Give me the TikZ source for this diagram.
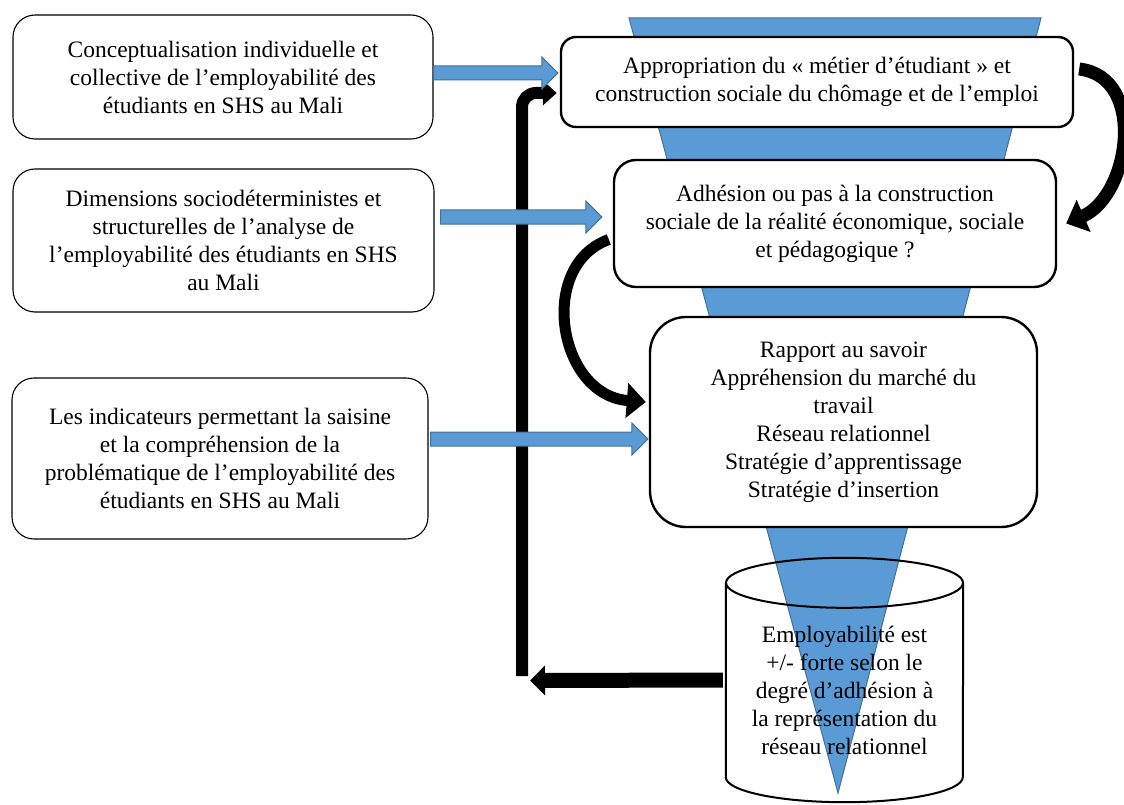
\documentclass[tikz,border=0pt]{standalone}
\usepackage{fontspec}
\setmainfont{Liberation Serif}
\usetikzlibrary{calc,arrows.meta}

\definecolor{funnelblue}{HTML}{5B9BD5}
\definecolor{edgeblue}{HTML}{41719C}

\tikzset{
    txt/.style={font=\fontsize{23.5pt}{28pt}\selectfont, align=center, inner sep=0pt},
    sourcebox/.style={txt, draw, line width=1.1pt, rounded corners=22pt, fill=white},
    stagebox/.style={txt, draw, line width=2.4pt, fill=white},
    cylline/.style={line width=2pt},
    blockarrow/.style={draw=edgeblue, fill=funnelblue, line width=1pt,
        to path={let \p1=(\tikztostart), \p2=(\tikztotarget) in
            (\x1,\y1+7pt) -- (\x2-#1-16pt,\y1+7pt) -- (\x2-#1-16pt,\y1+16pt) -- (\x2-#1,\y1)
            -- (\x2-#1-16pt,\y1-16pt) -- (\x2-#1-16pt,\y1-7pt) -- (\x1,\y1-7pt) -- cycle}},
    blockarrow/.default=2pt,
    bendarrow/.style={line width=#1, -{Triangle[length=19pt,width=34pt]}},
    loopline/.style={line width=#1}
}

\begin{document}
\begin{tikzpicture}[x=1pt,y=-1pt]
\useasboundingbox (0,0) rectangle (1124,805);

\filldraw[draw=edgeblue, fill=funnelblue, line width=1pt] (629,18) -- (1041,18) -- (838,793) -- cycle;

\node[sourcebox, minimum width=420pt, minimum height=124pt] (src1) at (223,77)
    {Conceptualisation individuelle et\\collective de l’employabilité des\\étudiants en SHS au Mali};
\node[sourcebox, minimum width=421pt, minimum height=143pt] (src2) at (223.5,240.5)
    {Dimensions sociodéterministes et\\structurelles de l’analyse de\\l’employabilité des étudiants en SHS\\au Mali};
\node[sourcebox, minimum width=416pt, minimum height=161pt] (src3) at (220,458.5)
    {Les indicateurs permettant la saisine\\et la compréhension de la\\problématique de l’employabilité des\\étudiants en SHS au Mali};

\node[stagebox, rounded corners=15pt, minimum width=512pt, minimum height=90pt] (approp) at (817,82)
    {Appropriation du « métier d’étudiant » et\\construction sociale du chômage et de l’emploi};
\node[stagebox, rounded corners=22pt, minimum width=442pt, minimum height=127pt] (adhes) at (835,223.5)
    {Adhésion ou pas à la construction\\sociale de la réalité économique, sociale\\et pédagogique ?};
\node[stagebox, rounded corners=36pt, minimum width=387pt, minimum height=210pt] (rapport) at (843.5,422)
    {Rapport au savoir\\Appréhension du marché du\\travail\\Réseau relationnel\\Stratégie d’apprentissage\\Stratégie d’insertion};

\node[inner sep=0pt, minimum width=237pt, minimum height=194pt] (emp) at (844.5,680) {};
\draw[cylline] (emp.north west) -- (emp.south west)
    arc[start angle=180, end angle=360, x radius=118.5pt, y radius=25pt] -- (emp.north east);
\draw[cylline] (emp.north) ellipse[x radius=118.5pt, y radius=25pt];
\node[txt] (emptxt) at (844.5,690)
    {Employabilité est\\+/- forte selon le\\degré d’adhésion à\\la représentation du\\réseau relationnel};

\coordinate (loopturn) at (522,676);
\coordinate (loopend) at (530,680.5);
\draw[loopline=15pt, -{Triangle[length=15pt,width=29pt]}] ([xshift=-3pt]emp.west) -- (loopend);
\draw[loopline=12pt, rounded corners=14pt, -{Triangle[length=14pt,width=24pt]}]
    (loopturn) |- ([xshift=-3pt,yshift=-11pt]approp.west);

\draw[bendarrow=13pt] ([shift={(5pt,13pt)}]approp.east) .. controls +(68,8) and +(64,-28) .. ([xshift=9pt]adhes.east);
\draw[bendarrow=11pt] ([shift={(-4pt,-16pt)}]adhes.west) .. controls +(-72,26) and +(-88,-7) .. ([xshift=-3pt,yshift=20pt]rapport.west);

\draw[blockarrow] ([yshift=4pt]src1.east) to (approp.west);
\draw[blockarrow=11pt] ([xshift=6pt,yshift=23.5pt]src2.east) to (adhes.west);
\draw[blockarrow=1pt] ([xshift=2pt,yshift=19.5pt]src3.east) to (rapport.west);
\end{tikzpicture}
\end{document}
